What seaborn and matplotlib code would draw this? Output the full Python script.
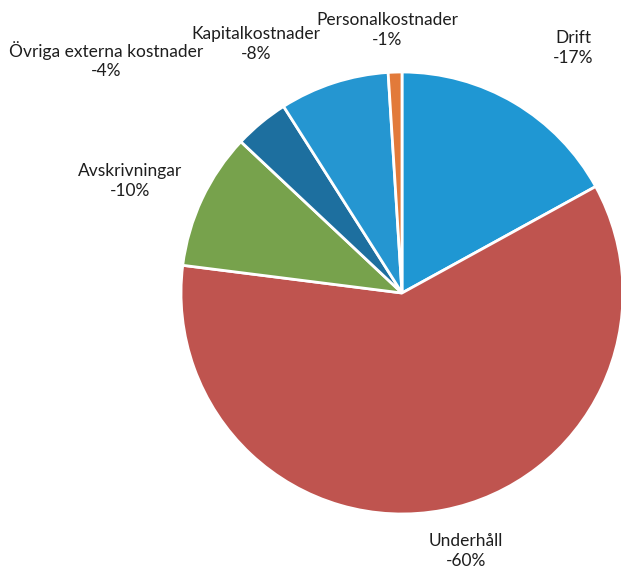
import matplotlib
matplotlib.use("Agg")
import matplotlib.pyplot as plt
import seaborn as sns

categories = ["Drift", "Underhåll", "Avskrivningar", "Övriga externa kostnader",
              "Kapitalkostnader", "Personalkostnader"]
values = [17, 60, 10, 4, 8, 1]
pct_labels = ["-17%", "-60%", "-10%", "-4%", "-8%", "-1%"]

colors = ["#1f97d3", "#bf544f", "#77a24c", "#1d6f9f", "#2596d1", "#e27a3a"]
# label centre positions in pixels (x, y from top)
label_pos = [(573, 48), (466, 551), (130, 181), (106, 60), (256, 44), (387, 30)]

sns.set_theme(style="white")
plt.rcParams['font.family'] = ['Lato', 'DejaVu Sans']

W, H = 621, 570
fig = plt.figure(figsize=(W / 100, H / 100), dpi=100)
cx, cy, r = 402, 293, 221
ax = fig.add_axes([(cx - r) / W, (H - cy - r) / H, 2 * r / W, 2 * r / H])
ax.pie(values, colors=colors, startangle=90, counterclock=False, radius=1,
       wedgeprops=dict(edgecolor="white", linewidth=2))
ax.set_xlim(-1, 1)
ax.set_ylim(-1, 1)
ax.axis("off")

for cat, pct, (x, y) in zip(categories, pct_labels, label_pos):
    fig.text(x / W, 1 - y / H, f"{cat}\n{pct}", ha="center", va="center",
             fontsize=12.5, color="#1e1e1e", linespacing=1.3)

fig.savefig("out.png", dpi=100, facecolor="white")
